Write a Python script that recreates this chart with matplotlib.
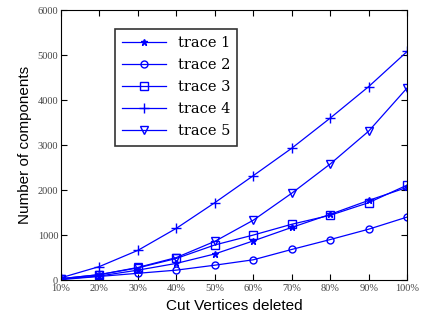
import matplotlib
matplotlib.use("Agg")
import matplotlib.pyplot as plt

x_labels = ['10%', '20%', '30%', '40%', '50%', '60%', '70%', '80%', '90%', '100%']
trace1 = [20, 90, 220, 370, 580, 870, 1170, 1460, 1770, 2060]
trace2 = [10, 80, 150, 220, 330, 450, 680, 900, 1130, 1400]
trace3 = [30, 120, 270, 480, 780, 1000, 1240, 1440, 1720, 2110]
trace4 = [50, 300, 660, 1150, 1720, 2320, 2930, 3600, 4300, 5080]
trace5 = [30, 120, 280, 500, 860, 1330, 1930, 2580, 3310, 4270]

x = list(range(len(x_labels)))

fig = plt.figure(figsize=(4.25, 3.26), dpi=100)
ax = fig.add_axes([0.1435, 0.141, 0.8145, 0.828])

mk = dict(color='blue', lw=0.9, mfc='none', mec='blue')
ax.plot(x, trace1, '-*', label='trace 1', color='blue', lw=0.9, ms=5)
ax.plot(x, trace2, '-o', label='trace 2', ms=5, **mk)
ax.plot(x, trace3, '-s', label='trace 3', ms=6, **mk)
ax.plot(x, trace4, '-+', label='trace 4', color='blue', lw=0.9, ms=7)
ax.plot(x, trace5, '-v', label='trace 5', ms=6, **mk)

ax.set_xlim(0, 9)
ax.set_ylim(0, 6000)
ax.set_xticks(x)
ax.set_xticklabels(x_labels)
ax.set_yticks(range(0, 6001, 1000))
ax.tick_params(direction='in', top=True, right=True, length=4, labelsize=7.5)
ax.tick_params(axis='x', pad=3)
ax.tick_params(axis='y', pad=2)
for lab in ax.get_xticklabels() + ax.get_yticklabels():
    lab.set_family('Liberation Serif')
    lab.set_color('#444444')

ax.set_xlabel('Cut Vertices deleted', family='Liberation Sans', fontsize=11)
ax.set_ylabel('Number of components', family='Liberation Sans', fontsize=11)

leg = ax.legend(loc='upper left', bbox_to_anchor=(0.156, 0.93), fancybox=False,
                prop={'family': 'DejaVu Serif', 'size': 10.5}, handlelength=3.0,
                labelspacing=0.55, borderpad=0.5, borderaxespad=0)
leg.get_frame().set_edgecolor('black')
leg.get_frame().set_linewidth(1.2)

fig.savefig('out.png', dpi=100)
